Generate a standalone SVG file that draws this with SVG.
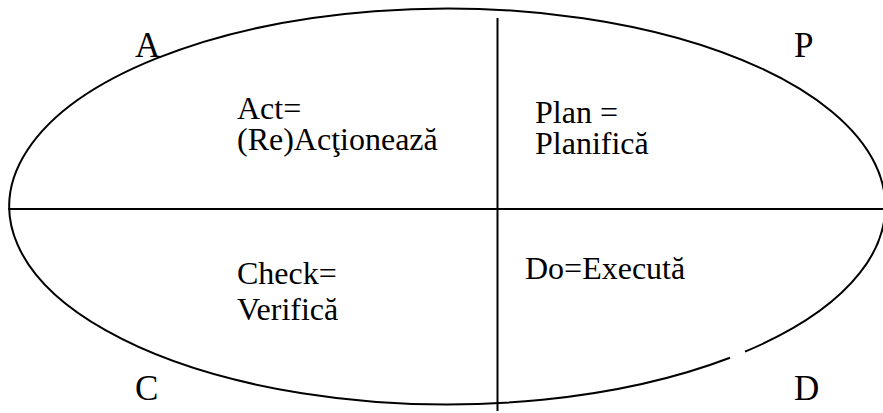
<svg xmlns="http://www.w3.org/2000/svg" width="883" height="413" viewBox="0 0 883 413">
  <style>
    .edge { fill: none; stroke: #000; stroke-width: 2; }
    text { font-family: 'Liberation Serif', 'DejaVu Serif', serif; fill: #000; }
    .label { font-size: 32px; }
    .corner { font-size: 35px; }
  </style>
  <rect width="883" height="413" fill="#fff"/>

  <!-- outer cycle: ellipse with a small break near the lower right -->
  <g id="cycle">
    <path class="edge" d="M 745 351.7 A 438 198 0 1 0 730 357.7"/>
  </g>

  <!-- quadrant dividers -->
  <g id="connectors">
    <line class="edge" x1="8" y1="209" x2="883" y2="209"/>
    <line class="edge" x1="497.5" y1="18" x2="497.5" y2="411"/>
  </g>

  <g id="act">
    <text class="corner" x="135" y="57">A</text>
    <text class="label" x="237" y="119">Act=</text>
    <text class="label" x="237" y="150">(Re)Acţionează</text>
  </g>

  <g id="plan">
    <text class="corner" x="794" y="57">P</text>
    <text class="label" x="535" y="123">Plan =</text>
    <text class="label" x="535" y="154">Planifică</text>
  </g>

  <g id="check">
    <text class="corner" x="135" y="400">C</text>
    <text class="label" x="237" y="284">Check=</text>
    <text class="label" x="237" y="320">Verifică</text>
  </g>

  <g id="do">
    <text class="corner" x="794" y="400">D</text>
    <text class="label" x="525" y="279">Do=Execută</text>
  </g>
</svg>
